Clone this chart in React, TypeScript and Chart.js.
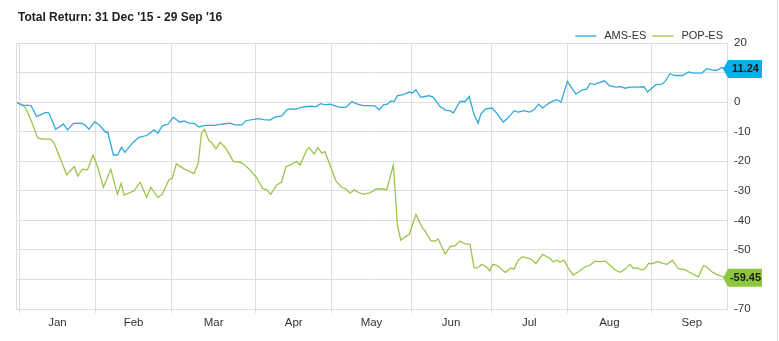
import React, { useEffect, useRef } from "react";
import { Chart, registerables } from "chart.js";

Chart.register(...registerables);

const titleText = "Total Return: 31 Dec '15 - 29 Sep '16";
const seriesNames = ["AMS-ES", "POP-ES"];
const seriesColors = ["#2fa9de", "#9cc44a"];
const badgeColors = ["#0aaee9", "#8dc63f"];

// x = trading-day index since 31 Dec '15
const amsDays = [0, 1.7, 3.5, 4.1, 5.6, 8.0, 8.9, 10.7, 11.8, 12.8, 13.9, 15.5, 17.5, 18.5, 19.7, 21.3, 22.7, 24.2, 24.8, 26.3, 27.4, 28.5, 29.4, 31.4, 33.2, 35.3, 37.3, 38.3, 39.5, 41.0, 42.5, 44.2, 45.4, 46.7, 48.1, 49.5, 51.0, 53.7, 56.0, 57.8, 59.1, 61.0, 62.1, 65.4, 67.0, 68.6, 69.9, 71.8, 73.1, 74.0, 75.6, 77.2, 79.4, 81.0, 82.3, 83.4, 84.8, 87.0, 88.0, 89.1, 90.7, 92.0, 93.8, 95.6, 96.9, 98.1, 99.2, 100.3, 101.2, 102.1, 103.0, 104.6, 106.2, 107.1, 108.0, 109.3, 110.4, 111.6, 112.7, 114.5, 116.1, 117.2, 118.1, 119.9, 121.3, 122.4, 123.7, 124.8, 125.5, 126.7, 128.5, 129.8, 131.6, 133.2, 134.5, 135.6, 137.2, 138.6, 139.9, 141.1, 142.2, 144.2, 146.0, 147.2, 148.9, 150.1, 151.2, 152.8, 154.1, 155.0, 156.1, 157.3, 158.9, 160.2, 162.0, 163.3, 164.5, 165.8, 167.8, 169.6, 170.5, 171.7, 172.8, 174.4, 175.3, 176.6, 178.0, 180.0, 181.6, 182.9, 185.2, 186.5, 187.9, 189.2, 190.6, 192];
const amsValues = [0, -1.1, -1.1, -1.3, -4.9, -3.5, -3.7, -9.2, -8.3, -7.4, -9.4, -7.2, -7.1, -7.6, -9.2, -6.6, -8.0, -10.2, -10.2, -17.9, -17.9, -15.3, -17.0, -13.9, -11.9, -11.3, -9.4, -10.5, -8.0, -7.5, -5.1, -6.8, -6.4, -7.1, -7.2, -8.4, -7.9, -7.9, -7.4, -7.1, -7.7, -7.7, -6.3, -5.6, -5.9, -6.1, -5.1, -4.7, -2.6, -2.3, -2.4, -1.7, -1.4, -1.5, -0.5, -0.9, -0.7, -1.6, -1.8, -1.8, 0.2, -0.6, -1.2, -1.2, -1.3, -2.6, -0.9, -0.7, 0.4, 0.2, 2.2, 2.5, 3.4, 3.1, 4.2, 1.6, 1.9, 2.2, 1.6, -1.5, -2.8, -2.9, -3.7, 0.2, 0.2, 1.9, -4.3, -7.1, -4.1, -2.4, -2.0, -3.7, -6.8, -4.9, -2.9, -3.4, -2.9, -3.4, -2.6, -0.7, -2.0, -0.1, 0.8, 0, 7.0, 4.7, 2.7, 4.1, 4.4, 6.3, 5.9, 6.5, 7.2, 5.6, 5.1, 5.2, 4.7, 5.1, 5.1, 5.2, 3.4, 4.7, 5.9, 6.1, 7.0, 9.6, 9.0, 9.0, 10.2, 9.8, 9.8, 11.3, 10.9, 10.7, 11.7, 11.24];

const popDays = [0, 1.7, 2.6, 4.0, 5.9, 7.6, 9.4, 10.3, 13.7, 15.7, 16.7, 17.9, 19.3, 20.8, 22.0, 23.6, 25.6, 27.4, 28.4, 29.2, 31.9, 33.5, 35.3, 36.4, 38.3, 39.5, 41.3, 42.2, 43.3, 45.4, 47.0, 48.1, 49.2, 50.1, 50.9, 52.1, 52.8, 54.0, 55.1, 56.7, 58.7, 60.5, 61.8, 63.2, 65.0, 66.6, 67.7, 68.8, 70.4, 71.7, 72.9, 74.0, 75.8, 76.7, 78.5, 79.2, 80.5, 81.5, 82.6, 83.4, 84.8, 86.4, 88.0, 89.1, 90.2, 91.3, 92.4, 93.8, 95.6, 97.2, 99.2, 100.1, 101.9, 103.0, 103.9, 105.1, 106.2, 108.0, 109.6, 110.7, 112.0, 113.2, 114.0, 115.9, 117.2, 118.6, 119.9, 121.3, 122.6, 123.7, 124.6, 125.8, 127.0, 127.9, 128.8, 130.1, 131.3, 132.2, 133.6, 134.5, 135.6, 136.8, 139.0, 140.4, 142.2, 144.2, 145.1, 146.0, 146.9, 148.0, 149.2, 150.5, 151.9, 153.7, 154.9, 156.4, 157.7, 159.1, 160.4, 161.8, 163.1, 164.5, 165.8, 166.7, 167.8, 169.0, 169.9, 170.8, 172.0, 173.3, 174.7, 175.8, 177.3, 178.8, 180.7, 182.5, 184.3, 185.6, 186.5, 187.9, 189.2, 191.0, 192];
const popValues = [0, -0.9, -2.0, -6.0, -12.2, -12.5, -12.5, -13.9, -24.6, -21.8, -25.0, -22.7, -22.9, -17.9, -21.8, -28.8, -22.7, -31.2, -27.5, -31.5, -30.0, -27.1, -32.2, -28.8, -32.2, -31.2, -26.3, -25.8, -20.9, -22.6, -23.6, -24.1, -20.7, -10.5, -9.2, -13.1, -13.6, -15.8, -13.6, -15.6, -20.1, -20.3, -21.3, -23.0, -25.6, -29.2, -29.7, -31.2, -28.0, -27.1, -21.8, -21.3, -20.1, -21.3, -16.2, -15.4, -17.6, -15.4, -17.3, -16.7, -21.3, -26.7, -28.9, -29.4, -30.8, -29.7, -30.5, -31.2, -30.7, -29.4, -29.4, -29.7, -21.3, -41.6, -46.7, -45.6, -44.7, -38.0, -42.2, -44.1, -46.9, -47.0, -46.3, -51.4, -48.9, -48.6, -47.0, -48.0, -48.1, -56.1, -56.1, -54.9, -55.7, -57.1, -54.9, -55.4, -56.8, -57.6, -56.1, -56.5, -53.5, -52.3, -53.1, -54.6, -51.5, -52.9, -54.1, -53.4, -54.2, -53.5, -56.3, -58.5, -57.4, -55.7, -55.2, -53.8, -54.0, -53.8, -55.2, -56.8, -57.6, -56.5, -54.9, -56.3, -56.1, -56.8, -56.3, -54.6, -54.6, -54.0, -54.6, -54.9, -53.5, -56.3, -56.8, -58.0, -59.1, -55.4, -55.7, -57.4, -58.3, -59.1, -59.45];

const lastLabels = ["11.24", "-59.45"];

const monthNames = ["Jan", "Feb", "Mar", "Apr", "May", "Jun", "Jul", "Aug", "Sep"];
const monthStarts = [0.9, 21.5, 42.0, 64.7, 85.3, 106.7, 128.3, 148.9, 171.6];
const octoberStart = 193.4;
const yMin = -70;
const yMax = 20;
const yStep = 10;
const xMax = 192;

const FONT = "'Liberation Sans', Arial, Helvetica, sans-serif";
const GRID = "#dedede";

const labelPositions = monthStarts.map((s, i) =>
  (s + (i + 1 < monthStarts.length ? monthStarts[i + 1] : octoberStart)) / 2
);

const decorPlugin = {
  id: "decor",
  afterDraw(chart: any) {
    const { ctx, chartArea } = chart;
    ctx.save();
    ctx.strokeStyle = GRID;
    ctx.lineWidth = 1;
    ctx.beginPath();
    ctx.moveTo(Math.round(chartArea.left) + 0.5, chartArea.top);
    ctx.lineTo(Math.round(chartArea.left) + 0.5, chartArea.bottom);
    ctx.stroke();
    ctx.beginPath();
    ctx.moveTo(777.5, 0);
    ctx.lineTo(777.5, chart.height);
    ctx.stroke();

    // title
    ctx.fillStyle = "#222";
    ctx.font = `bold 12px ${FONT}`;
    ctx.textBaseline = "middle";
    ctx.textAlign = "left";
    ctx.fillText(titleText, 18, 18);

    // legend (right aligned)
    ctx.font = `11px ${FONT}`;
    const lineW = 21;
    const gap = 8;
    const itemGap = 6;
    const widths = seriesNames.map((n) => lineW + gap + ctx.measureText(n).width);
    let x = 723 - widths.reduce((a, b) => a + b, 0) - itemGap * (seriesNames.length - 1);
    const ly = 36;
    seriesNames.forEach((n, i) => {
      ctx.strokeStyle = seriesColors[i];
      ctx.lineWidth = 1.3;
      ctx.beginPath();
      ctx.moveTo(x, ly);
      ctx.lineTo(x + lineW, ly);
      ctx.stroke();
      ctx.fillStyle = "#333";
      ctx.fillText(n, x + lineW + gap, ly);
      x += widths[i] + itemGap;
    });

    // end-value badges
    chart.data.datasets.forEach((ds: any, i: number) => {
      const meta = chart.getDatasetMeta(i);
      const pt = meta.data[meta.data.length - 1];
      if (!pt) return;
      const y = pt.y;
      const x0 = chartArea.right - 4;
      const x1 = chartArea.right + 1;
      const x2 = chartArea.right + 35;
      const h = 9;
      ctx.fillStyle = badgeColors[i];
      ctx.beginPath();
      ctx.moveTo(x0, y);
      ctx.lineTo(x1, y - h);
      ctx.lineTo(x2, y - h);
      ctx.lineTo(x2, y + h);
      ctx.lineTo(x1, y + h);
      ctx.closePath();
      ctx.fill();
      ctx.fillStyle = "#1a1a1a";
      ctx.font = `bold 11px ${FONT}`;
      ctx.textAlign = "center";
      ctx.fillText(lastLabels[i], (x1 + x2) / 2 + 0.5, y + 0.5);
    });
    ctx.restore();
  },
};

export default function App() {
  const canvasRef = useRef<HTMLCanvasElement | null>(null);

  useEffect(() => {
    document.body.style.margin = "0";
    const canvas = canvasRef.current;
    if (!canvas) return;
    const boundarySet = new Set(monthStarts);
    const chart = new Chart(canvas, {
      type: "line",
      data: {
        datasets: [
          {
            label: seriesNames[0],
            data: amsDays.map((d, i) => ({ x: d, y: amsValues[i] })),
            borderColor: seriesColors[0],
            borderWidth: 1.3,
            pointRadius: 0,
            tension: 0,
          },
          {
            label: seriesNames[1],
            data: popDays.map((d, i) => ({ x: d, y: popValues[i] })),
            borderColor: seriesColors[1],
            borderWidth: 1.3,
            pointRadius: 0,
            tension: 0,
          },
        ],
      },
      options: {
        animation: false,
        responsive: false,
        devicePixelRatio: 1,
        layout: { padding: { left: 16, top: 43, right: 0, bottom: 0 } },
        plugins: {
          legend: { display: false },
          title: { display: false },
          tooltip: { enabled: false },
        },
        scales: {
          x: {
            type: "linear",
            min: 0,
            max: xMax,
            afterBuildTicks: (scale: any) => {
              const all = [...monthStarts, ...labelPositions.filter((p) => p <= xMax)].sort((a, b) => a - b);
              scale.ticks = all.map((v) => ({ value: v }));
            },
            afterFit: (scale: any) => {
              scale.height = 32;
            },
            grid: {
              color: (c: any) => (c.tick && boundarySet.has(c.tick.value) ? GRID : "rgba(0,0,0,0)"),
              tickColor: (c: any) => (c.tick && boundarySet.has(c.tick.value) ? GRID : "rgba(0,0,0,0)"),
              tickLength: 4,
              drawTicks: true,
            },
            border: { display: true, color: GRID },
            ticks: {
              autoSkip: false,
              maxRotation: 0,
              padding: 3,
              color: "#333",
              font: { family: FONT, size: 11.5 },
              callback: (value: any) => {
                const idx = labelPositions.findIndex((p) => Math.abs(p - value) < 1e-6);
                return idx >= 0 ? monthNames[idx] : "";
              },
            },
          },
          y: {
            type: "linear",
            position: "right",
            min: yMin,
            max: yMax,
            afterFit: (scale: any) => {
              scale.width = 52;
            },
            grid: { color: GRID, drawTicks: false },
            border: { display: true, color: GRID },
            ticks: {
              stepSize: yStep,
              padding: 7,
              color: "#333",
              font: { family: FONT, size: 11.5 },
            },
          },
        },
      },
      plugins: [decorPlugin],
    } as any);
    return () => chart.destroy();
  }, []);

  return (
    <div style={{ position: "relative", width: 779, height: 341, background: "#fff" }}>
      <canvas ref={canvasRef} width={779} height={341} style={{ display: "block" }} />
    </div>
  );
}
